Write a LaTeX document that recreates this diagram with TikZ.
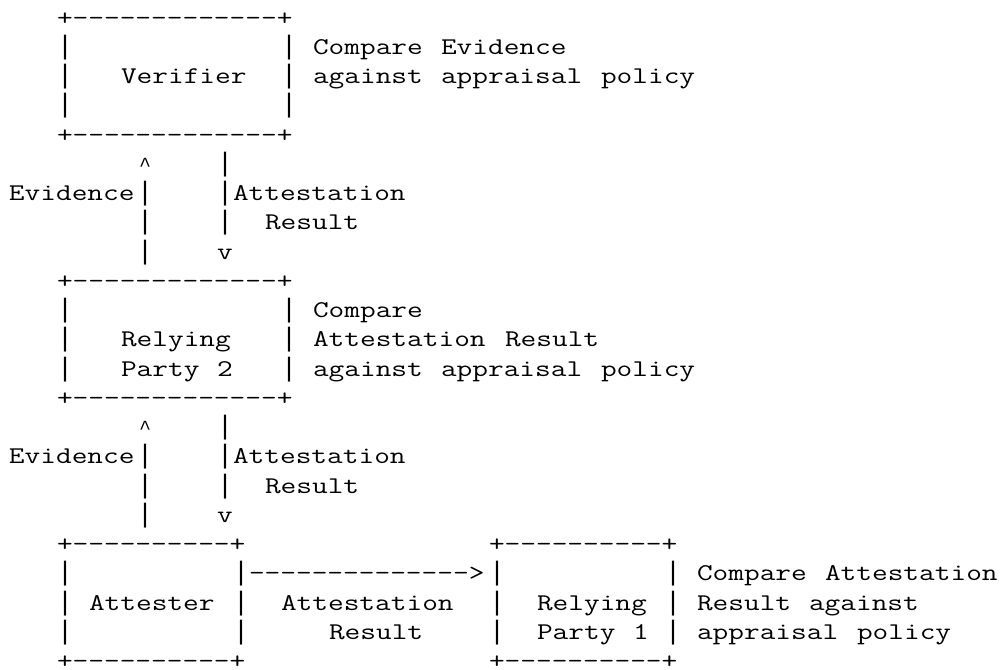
\documentclass[tikz,border=0pt]{standalone}
\usepackage{fontspec}
% typewriter face widened so one character cell is exactly 16pt
\newfontfamily\asciifont[FakeStretch=1.27,Ligatures=TeXOff]{Latin Modern Mono}
% long vertical bar and caret taken from a Courier-width face (cell 16pt)
\newfontfamily\barfont[Ligatures=TeXOff]{Liberation Mono}
\newcommand\asciisize{\fontsize{24pt}{29.24pt}\selectfont}
\newcommand\barsize{\fontsize{26.667pt}{29.24pt}\selectfont}
\newcommand\caretsize{\fontsize{20pt}{29.24pt}\selectfont}
\tikzset{
  glyphs/.style={font=\asciifont\asciisize, anchor=base west,
    inner sep=0pt, outer sep=0pt, text=black},
  bars/.style={glyphs, font=\barfont\barsize},
  caret/.style={glyphs, font=\barfont\caretsize, anchor=base},
  lastrow/.style={text depth=0pt},
}
% \gridtext{name}{column}{row}{characters}
\newcommand\gridtext[4]{\node[glyphs] (#1) at (#2,#3) {#4};}
% \gridbar{name}{column}{row}{character}
\newcommand\gridbar[4]{\node[bars] (#1) at (#2,#3) {#4};}
% \gridcaret{name}{column}{row}: upward arrow head centred in its cell
\newcommand\gridcaret[3]{\node[caret] (#1) at (#2+0.5,#3) {\textasciicircum};}

\begin{document}
\begin{tikzpicture}[x=16pt,y=-29.24pt]
\fill[white] (0pt,0pt) rectangle (1003pt,-669pt);
\useasboundingbox (0pt,0pt) rectangle (1003pt,-669pt);
\begin{scope}[shift={(9pt,-25.2pt)}]

% ---- Verifier ----
\gridtext{ver-top}{3}{0}{+-------------+}
\foreach \r in {1,2,3}{
  \gridbar{ver-west-\r}{3}{\r}{|}
  \gridbar{ver-east-\r}{17}{\r}{|}
}
\gridtext{ver-bot}{3}{4}{+-------------+}
\gridtext{ver-label}{7}{2}{Verifier}
\gridtext{ver-note-1a}{19}{1}{Compare}
\gridtext{ver-note-1b}{27}{1}{Evidence}
\gridtext{ver-note-2a}{19}{2}{against}
\gridtext{ver-note-2b}{27}{2}{appraisal}
\gridtext{ver-note-2c}{37}{2}{policy}

% ---- Relying Party 2 <-> Verifier ----
\gridcaret{up1-head}{8}{5}
\foreach \r in {6,7,8}{\gridbar{up1-shaft-\r}{8}{\r}{|}}
\foreach \r in {5,6,7}{\gridbar{down1-shaft-\r}{13}{\r}{|}}
\gridtext{down1-head}{13}{8}{v}
\gridtext{up1-label}{0}{6}{Evidence}
\gridtext{down1-label-a}{14}{6}{Attestation}
\gridtext{down1-label-b}{16}{7}{Result}

% ---- Relying Party 2 ----
\gridtext{rp2-top}{3}{9}{+-------------+}
\foreach \r in {10,11,12}{
  \gridbar{rp2-west-\r}{3}{\r}{|}
  \gridbar{rp2-east-\r}{17}{\r}{|}
}
\gridtext{rp2-bot}{3}{13}{+-------------+}
\gridtext{rp2-label-a}{7}{11}{Relying}
\gridtext{rp2-label-b}{7}{12}{Party}
\gridtext{rp2-label-c}{13}{12}{2}
\gridtext{rp2-note-1}{19}{10}{Compare}
\gridtext{rp2-note-2a}{19}{11}{Attestation}
\gridtext{rp2-note-2b}{31}{11}{Result}
\gridtext{rp2-note-3a}{19}{12}{against}
\gridtext{rp2-note-3b}{27}{12}{appraisal}
\gridtext{rp2-note-3c}{37}{12}{policy}

% ---- Attester <-> Relying Party 2 ----
\gridcaret{up2-head}{8}{14}
\foreach \r in {15,16,17}{\gridbar{up2-shaft-\r}{8}{\r}{|}}
\foreach \r in {14,15,16}{\gridbar{down2-shaft-\r}{13}{\r}{|}}
\gridtext{down2-head}{13}{17}{v}
\gridtext{up2-label}{0}{15}{Evidence}
\gridtext{down2-label-a}{14}{15}{Attestation}
\gridtext{down2-label-b}{16}{16}{Result}

% ---- Attester ----
\gridtext{att-top}{3}{18}{+----------+}
\foreach \r in {19,20,21}{
  \gridbar{att-west-\r}{3}{\r}{|}
  \gridbar{att-east-\r}{14}{\r}{|}
}
\node[glyphs,lastrow] (att-bot) at (3,22) {+----------+};
\gridtext{att-label}{5}{20}{Attester}

% ---- Attester -> Relying Party 1 ----
\gridtext{att-rp1-arrow}{15}{19}{-------------->}
\gridtext{arrow-label-a}{17}{20}{Attestation}
\gridtext{arrow-label-b}{20}{21}{Result}

% ---- Relying Party 1 ----
\gridtext{rp1-top}{30}{18}{+----------+}
\foreach \r in {19,20,21}{
  \gridbar{rp1-west-\r}{30}{\r}{|}
  \gridbar{rp1-east-\r}{41}{\r}{|}
}
\node[glyphs,lastrow] (rp1-bot) at (30,22) {+----------+};
\gridtext{rp1-label-a}{33}{20}{Relying}
\gridtext{rp1-label-b}{33}{21}{Party}
\gridtext{rp1-label-c}{39}{21}{1}
\gridtext{rp1-note-1a}{43}{19}{Compare}
\gridtext{rp1-note-1b}{51}{19}{Attestation}
\gridtext{rp1-note-2a}{43}{20}{Result}
\gridtext{rp1-note-2b}{50}{20}{against}
\gridtext{rp1-note-3a}{43}{21}{appraisal}
\gridtext{rp1-note-3b}{53}{21}{policy}

\end{scope}
\end{tikzpicture}
\end{document}
